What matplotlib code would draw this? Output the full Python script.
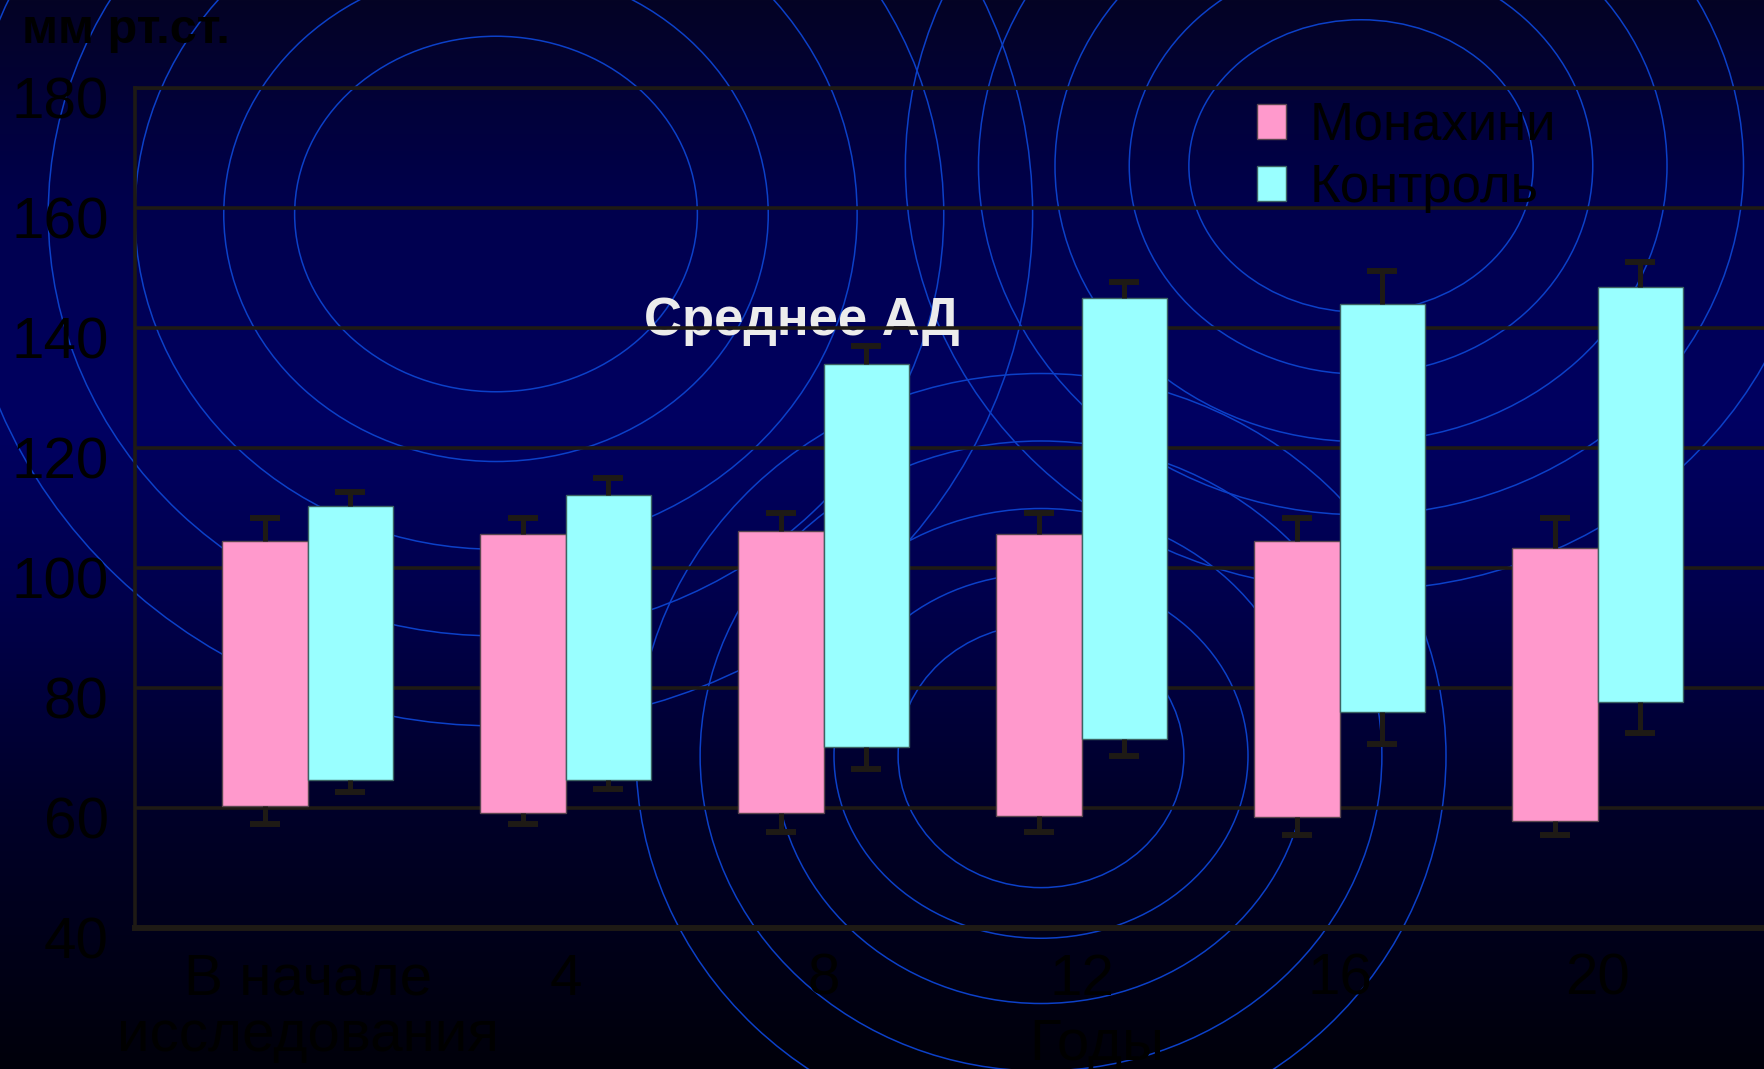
import matplotlib
matplotlib.use("Agg")
import matplotlib.pyplot as plt
from matplotlib import font_manager
from matplotlib.patches import Ellipse, Patch
from matplotlib.transforms import ScaledTranslation
import numpy as np

# --- data ---
groups = ["В начале\nисследования", "4", "8", "12", "16", "20"]
series = ["Монахини", "Контроль"]
x_title = "Годы"
y_title = "мм рт.ст."
chart_title = "Среднее АД"
y_ticks = [40, 60, 80, 100, 120, 140, 160, 180]

# upper / lower bar ends (systolic / diastolic) and their error whiskers
mon_high = [104.4, 105.6, 106.1, 105.6, 104.5, 103.3]
mon_low = [60.3, 59.2, 59.2, 58.7, 58.5, 57.8]
mon_high_sd = [3.9, 2.7, 3.1, 3.6, 3.8, 5.0]
mon_low_sd = [3.0, 1.9, 3.2, 2.7, 3.1, 2.4]

ctl_high = [110.3, 112.2, 134.0, 145.0, 143.9, 146.8]
ctl_low = [64.6, 64.6, 70.2, 71.5, 75.9, 77.7]
ctl_high_sd = [2.4, 2.8, 2.9, 2.6, 5.6, 4.2]
ctl_low_sd = [2.0, 1.4, 3.8, 2.9, 5.2, 5.2]

# --- style ---
W, H = 1764, 1069
PINK = "#ff99cc"
CYAN = "#99ffff"
LINE = "#1e1a15"
RING = "#0c40c8"

names = {f.name for f in font_manager.fontManager.ttflist}
NARROW = "Liberation Sans Narrow" if "Liberation Sans Narrow" in names else "Liberation Sans"
FAM = [NARROW, "DejaVu Sans"]

fig = plt.figure(figsize=(W / 100, H / 100), dpi=100)

# background: vertical navy gradient + concentric rings
bg = fig.add_axes([0, 0, 1, 1], zorder=-10)
bg.set_xlim(0, W)
bg.set_ylim(H, 0)
bg.axis("off")
yy = np.arange(H)
stops = [0, 200, 420, 600, 800, H]
r = np.interp(yy, stops, [4, 0, 0, 0, 0, 0])
g = np.interp(yy, stops, [3, 0, 0, 0, 0, 0])
b = np.interp(yy, stops, [36, 76, 98, 76, 42, 10])
grad = np.dstack([r, g, b]).reshape(H, 1, 3) / 255.0
bg.imshow(grad, extent=(0, W, H, 0), aspect="auto")

rings = [
    ((496, 214), [179, 242, 321, 398, 477], [158, 220, 298, 375, 455]),
    ((1361, 166), [153, 206, 272, 340, 405], [130, 185, 245, 310, 377]),
    ((1041, 756), [127, 184, 237, 303, 360], [117, 162, 220, 280, 340]),
]
for (cx, cy), hr, vr in rings:
    for a, c in zip(hr, vr):
        bg.add_patch(Ellipse((cx, cy), 2 * a * 1.125, 2 * c * 1.125,
                             fill=False, ec=RING, lw=1.1))

# main chart
ax = fig.add_axes([135 / W, 1 - 927.7 / H, 1 - 135 / W, (927.7 - 87.7) / H])
ax.patch.set_alpha(0)
x = np.arange(len(groups))
w = 0.33

mh, ml = np.array(mon_high), np.array(mon_low)
ch, cl = np.array(ctl_high), np.array(ctl_low)

ax.bar(x - w / 2, mh - ml, bottom=ml, width=w, color=PINK, edgecolor="#5a4650",
       lw=1, zorder=3, label=series[0])
ax.bar(x + w / 2, ch - cl, bottom=cl, width=w, color=CYAN, edgecolor="#3c6464",
       lw=1, zorder=3, label=series[1])

for xs, hi, lo, hsd, lsd in [(x - w / 2, mh, ml, mon_high_sd, mon_low_sd),
                             (x + w / 2, ch, cl, ctl_high_sd, ctl_low_sd)]:
    top = hi + np.array(hsd)
    bot = lo - np.array(lsd)
    ax.vlines(xs, hi, top, color=LINE, lw=3.6, zorder=4)
    ax.vlines(xs, bot, lo, color=LINE, lw=3.6, zorder=4)
    ax.plot(xs, top, ls="none", marker="_", ms=22, mew=4.3, color=LINE, zorder=4)
    ax.plot(xs, bot, ls="none", marker="_", ms=22, mew=4.3, color=LINE, zorder=4)

ax.set_xlim(-0.669, 5.645)
ax.set_ylim(40, 180)
ax.set_yticks(y_ticks)
ax.set_yticklabels([str(t) for t in y_ticks])
ax.set_xticks(x)
ax.set_xticklabels(groups)
ax.set_axisbelow(True)
ax.grid(axis="y", color=LINE, lw=2.6)
ax.grid(axis="x", visible=False)
ax.spines["right"].set_visible(False)
ax.spines["top"].set_color(LINE)
ax.spines["top"].set_linewidth(2.6)
ax.spines["left"].set_color(LINE)
ax.spines["left"].set_linewidth(2.6)
ax.spines["bottom"].set_color(LINE)
ax.spines["bottom"].set_linewidth(4.3)
ax.tick_params(axis="y", length=0, pad=19, labelsize=42, labelcolor="black")
ax.tick_params(axis="x", length=0, pad=18, labelsize=42, labelcolor="black")
down = ScaledTranslation(0, -0.10, fig.dpi_scale_trans)
for lbl in ax.get_yticklabels():
    lbl.set_family(FAM)
    lbl.set_transform(lbl.get_transform() + down)
for lbl in ax.get_xticklabels():
    lbl.set_family(FAM)
    lbl.set_linespacing(1.05)

# title sits under the grid lines, as on the slide
ax.text(802 / W, 1 - 335 / H, chart_title, transform=fig.transFigure,
        ha="center", va="baseline", fontsize=38, fontweight="bold",
        color="#ececec", family="Liberation Sans", zorder=0.3)

fig.text(22 / W, 1 - 43 / H, y_title, ha="left", va="baseline", fontsize=35,
         fontweight="bold", color="black", family="Liberation Sans")
fig.text(1097 / W, 1 - 1060 / H, x_title, ha="center", va="baseline",
         fontsize=42, color="black", family=FAM)

handles = [Patch(facecolor=PINK, edgecolor="#5a4650", lw=1),
           Patch(facecolor=CYAN, edgecolor="#3c6464", lw=1)]
ax.legend(handles, series, loc="upper left",
          bbox_to_anchor=(1257 / W, 1 - 101 / H), bbox_transform=fig.transFigure,
          frameon=False, prop={"family": FAM, "size": 38},
          handlelength=0.55, handleheight=0.64, handletextpad=0.45,
          labelspacing=0.22, borderpad=0, borderaxespad=0, labelcolor="black")

fig.savefig("out.png", dpi=100)
